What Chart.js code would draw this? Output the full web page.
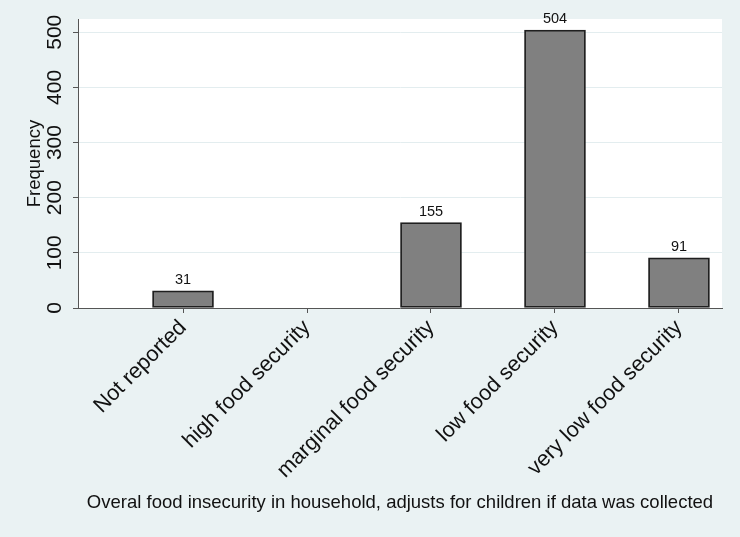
<!DOCTYPE html>
<html>
<head>
<meta charset="utf-8">
<script src="https://cdn.jsdelivr.net/npm/chart.js@4/dist/chart.umd.min.js"></script>
<style>
  html, body { margin: 0; padding: 0; background: #eaf2f3; }
  #wrap { width: 740px; height: 537px; position: relative; }
</style>
</head>
<body>
<div id="wrap"><canvas id="chart"></canvas></div>
<script>
// Categories and frequencies
const categories = ['Not reported', 'high food security', 'marginal food security', 'low food security', 'very low food security'];
const frequencies = [31, 0, 155, 504, 91];
const yTicks = [0, 100, 200, 300, 400, 500];

const bgColor = '#eaf2f3';
const axisColor = '#555555';
const gridColor = '#e3edef';
const fontFamily = "'Liberation Sans', Arial, Helvetica, sans-serif";

// paints the outer stata-like background and the white plot region
const backgroundPlugin = {
    id: 'bg',
    beforeDraw(chart) {
        const { ctx, chartArea: a } = chart;
        ctx.save();
        ctx.fillStyle = bgColor;
        ctx.fillRect(0, 0, chart.width, chart.height);
        ctx.fillStyle = '#ffffff';
        ctx.fillRect(a.left, a.top, a.right - a.left, a.bottom - a.top);
        ctx.restore();
    }
};

// numbers above bars (zero bars get no label)
const barLabelPlugin = {
    id: 'barLabels',
    afterDatasetsDraw(chart) {
        const { ctx } = chart;
        const meta = chart.getDatasetMeta(0);
        ctx.save();
        ctx.font = '14.5px ' + fontFamily;
        ctx.fillStyle = '#111';
        ctx.textAlign = 'center';
        ctx.textBaseline = 'alphabetic';
        meta.data.forEach((bar, i) => {
            const v = frequencies[i];
            if (!v) return;
            ctx.fillText(String(v), bar.x, bar.y - 7);
        });
        ctx.restore();
    }
};

const ctx = document.getElementById('chart').getContext('2d');

new Chart(ctx, {
    type: 'bar',
    data: {
        datasets: [{
            label: 'Frequency',
            data: categories.map((c, i) => ({ x: i, y: frequencies[i] })),
            backgroundColor: '#808080',
            borderColor: '#1f1f1f',
            borderWidth: 1.8,
            borderSkipped: false,
            barThickness: 61
        }]
    },
    options: {
        responsive: true,
        maintainAspectRatio: false,
        animation: false,
        layout: { padding: { top: 19, right: 18, left: 0, bottom: 0 } },
        plugins: {
            legend: { display: false },
            tooltip: { enabled: false }
        },
        scales: {
            x: {
                type: 'linear',
                offset: false,
                min: -0.847,
                max: 4.347,
                afterBuildTicks: (scale) => {
                    scale.ticks = categories.map((c, i) => ({ value: i }));
                },
                afterFit: (scale) => { scale.height = 229; },
                grid: { offset: false, drawOnChartArea: false, tickLength: 5, tickColor: axisColor, lineWidth: 1 },
                border: { color: axisColor, width: 1 },
                ticks: {
                    autoSkip: false,
                    minRotation: 45,
                    maxRotation: 45,
                    padding: 2,
                    color: '#111',
                    font: { family: fontFamily, size: 21.7 },
                    callback: (v) => categories[v] ?? ''
                },
                title: {
                    display: true,
                    text: 'Overal food insecurity in household, adjusts for children if data was collected',
                    color: '#111',
                    font: { family: fontFamily, size: 18.5 },
                    padding: { top: 0, bottom: 23 }
                }
            },
            y: {
                min: 0,
                max: 524,
                afterBuildTicks: (scale) => {
                    scale.ticks = yTicks.map(v => ({ value: v }));
                },
                afterFit: (scale) => { scale.width = 78; },
                grid: { color: gridColor, lineWidth: 1, tickLength: 5, tickColor: axisColor },
                border: { color: axisColor, width: 1 },
                ticks: {
                    minRotation: 90,
                    maxRotation: 90,
                    crossAlign: 'center',
                    padding: 0,
                    color: '#111',
                    font: { family: fontFamily, size: 21 }
                },
                title: {
                    display: true,
                    text: 'Frequency',
                    color: '#111',
                    font: { family: fontFamily, size: 18.5 },
                    padding: { top: 24, bottom: 0 }
                }
            }
        }
    },
    plugins: [backgroundPlugin, barLabelPlugin]
});
</script>
</body>
</html>
